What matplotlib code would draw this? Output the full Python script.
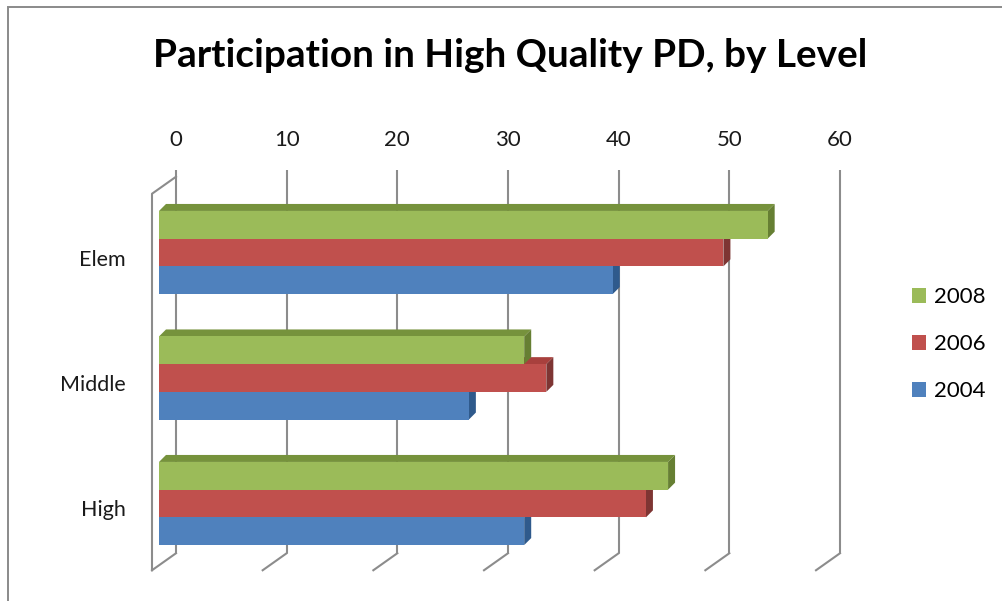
import matplotlib
matplotlib.use("Agg")
import matplotlib.pyplot as plt
from matplotlib.transforms import ScaledTranslation
from matplotlib.patches import Polygon, Rectangle, Patch

# ---- data ----
categories = ["Elem", "Middle", "High"]
years = ["2004", "2006", "2008"]
vals_2004 = [41, 28, 33]
vals_2006 = [51, 35, 44]
vals_2008 = [55, 33, 46]
value_ticks = [0, 10, 20, 30, 40, 50, 60]
title = "Participation in High Quality PD, by Level"

series = [vals_2004, vals_2006, vals_2008]
front_colors = ["#4F81BD", "#C0504D", "#9BBB59"]
top_colors = ["#3F6CA3", "#A8403D", "#76923C"]
side_colors = ["#2F5A8C", "#7E3533", "#667F33"]
grid_color = "#8C8C8C"
font = ["Lato", "DejaVu Sans"]

W, H, DPI = 1002, 601, 100
fig = plt.figure(figsize=(W / DPI, H / DPI), dpi=DPI)
fig.patch.set_facecolor("white")

# chart area border
fig.add_artist(Rectangle((8 / W, -0.1), 1.2, 1.1 - 7 / H, transform=fig.transFigure,
                         fill=False, edgecolor="#8A8A8A", linewidth=1.4))

# axes spanning the front plane of the bars
ppu = 664 / 60.0          # pixels per value unit
gpx = 125.5               # pixels per category step
left_px, top_px, bottom_px = 159, 150, 600
y0_px = 252.5
right_px = left_px + 60 * ppu
ax = fig.add_axes([left_px / W, 1 - bottom_px / H,
                   (right_px - left_px) / W, (bottom_px - top_px) / H])
ax.set_xlim(0, 60)
ax.set_ylim((bottom_px - y0_px) / gpx, (top_px - y0_px) / gpx)
ax.axis("off")


def shifted(dx, dy):
    return ax.transData + ScaledTranslation(dx / DPI, dy / DPI, fig.dpi_scale_trans)


back = shifted(17, 13)
wall_dx, wall_dy = -24 / ppu, 17 / gpx   # depth of the walls, in data units
y_top, y_bot = -0.5, 2.5
line_w = 1.5

# back wall gridlines and floor lines
for v in value_ticks:
    ax.plot([v, v], [y_top - 7 / gpx, y_bot], transform=back, color=grid_color,
            lw=line_w, clip_on=False, zorder=1, solid_capstyle="butt")
    ax.plot([v, v + wall_dx], [y_bot, y_bot + wall_dy], transform=back,
            color=grid_color, lw=line_w, clip_on=False, zorder=1)

# left wall edges
ax.plot([0, wall_dx, wall_dx], [y_top, y_top + wall_dy, y_bot + wall_dy],
        transform=back, color=grid_color, lw=line_w, clip_on=False, zorder=1)

# value labels along the top of the back wall
for v in value_ticks:
    ax.text(v, y_top, str(v), transform=shifted(17, 13 + 31), ha="center",
            va="baseline", fontsize=16, family=font, color="#1a1a1a")

# bars with a shallow 3-D look
h = 27.7 / gpx
ddx, ddy = 7 / ppu, 7 / gpx
for i, cat in enumerate(categories):
    for j in range(3):
        val = series[j][i]
        yc = i + (1 - j) * h
        yt, yb = yc - h / 2, yc + h / 2
        z = 3 + j * 0.1
        ax.add_patch(Polygon([(0, yt), (val, yt), (val + ddx, yt - ddy), (ddx, yt - ddy)],
                             closed=True, facecolor=top_colors[j], edgecolor="none",
                             zorder=z, clip_on=False))
        ax.add_patch(Polygon([(val, yt), (val, yb), (val + ddx, yb - ddy), (val + ddx, yt - ddy)],
                             closed=True, facecolor=side_colors[j], edgecolor="none",
                             zorder=z + 0.01, clip_on=False))
        ax.barh(yc, val, height=h, left=0, color=front_colors[j], zorder=z + 0.02,
                clip_on=False)
    ax.text(0, i, cat, transform=shifted(-33, -7), ha="right", va="center",
            fontsize=15.5, family=font, color="#1a1a1a")

# title, sized to span the chart width
t = fig.text(510.5 / W, 1 - 67 / H, title, ha="center", va="baseline",
             fontsize=24, fontweight="bold", family=font, color="black")
fig.canvas.draw()
wpx = t.get_window_extent().width
t.set_fontsize(24 * 715 / wpx)

# legend
handles = [Patch(facecolor=front_colors[k]) for k in (2, 1, 0)]
fig.legend(handles, [years[k] for k in (2, 1, 0)], loc="center left",
           bbox_to_anchor=(912 / W, 1 - 344 / H), frameon=False,
           prop={"family": font, "size": 16}, handlelength=0.65, handleheight=0.65,
           handletextpad=0.35, labelspacing=1.22, borderpad=0, borderaxespad=0)

fig.savefig("out.png", dpi=DPI, facecolor="white")
